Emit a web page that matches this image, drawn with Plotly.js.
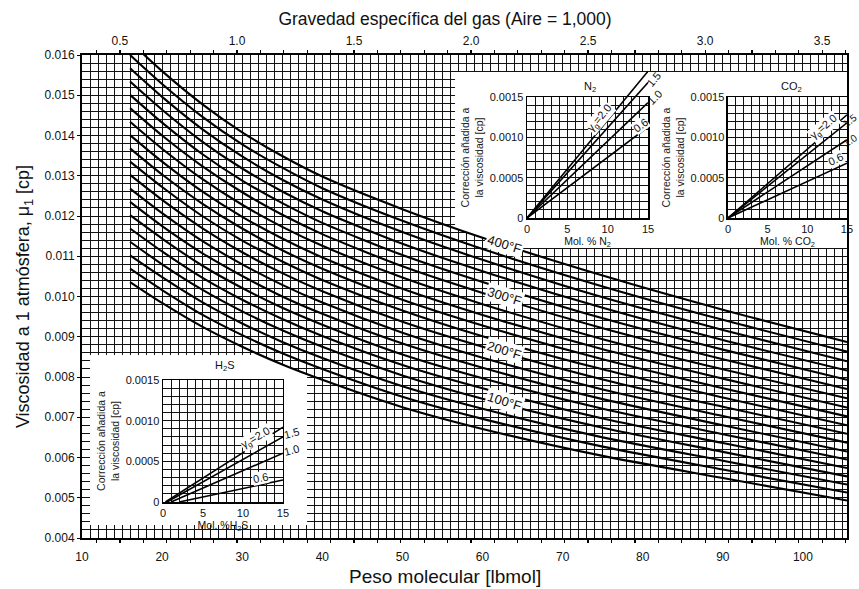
<!DOCTYPE html>
<html><head><meta charset="utf-8">
<script src="https://cdn.plot.ly/plotly-3.0.1.min.js"></script>
<style>html,body{margin:0;padding:0;background:#fff}#chart{width:859px;height:589px}</style>
</head><body><div id="chart"></div>
<script>
// ---- Main chart data: viscosity at 1 atm (cp) vs molecular weight, one curve per temperature ----
const molWeight = [16, 20, 25, 30, 35, 40, 50, 60, 75, 90, 105.5];
const temperaturesF = [40, 60, 80, 100, 120, 140, 160, 180, 200, 220, 240, 260, 280, 300, 320, 340, 360, 380, 400];
const visc_40F  = [0.01036, 0.00984, 0.00925, 0.00875, 0.00831, 0.00793, 0.00725, 0.00671, 0.00604, 0.00549, 0.00493];
const visc_60F  = [0.01069, 0.01016, 0.00955, 0.00904, 0.00859, 0.00820, 0.00751, 0.00696, 0.00627, 0.00570, 0.00513];
const visc_80F  = [0.01102, 0.01048, 0.00986, 0.00933, 0.00887, 0.00847, 0.00777, 0.00721, 0.00650, 0.00592, 0.00533];
const visc_100F = [0.01136, 0.01080, 0.01017, 0.00963, 0.00916, 0.00875, 0.00804, 0.00746, 0.00674, 0.00614, 0.00553];
const visc_120F = [0.01169, 0.01112, 0.01047, 0.00992, 0.00944, 0.00902, 0.00830, 0.00772, 0.00697, 0.00636, 0.00574];
const visc_140F = [0.01202, 0.01144, 0.01077, 0.01021, 0.00972, 0.00930, 0.00856, 0.00797, 0.00721, 0.00658, 0.00595];
const visc_160F = [0.01235, 0.01175, 0.01108, 0.01051, 0.01000, 0.00957, 0.00883, 0.00823, 0.00745, 0.00680, 0.00615];
const visc_180F = [0.01268, 0.01207, 0.01138, 0.01080, 0.01029, 0.00985, 0.00910, 0.00848, 0.00769, 0.00703, 0.00637];
const visc_200F = [0.01302, 0.01240, 0.01170, 0.01110, 0.01058, 0.01013, 0.00937, 0.00875, 0.00794, 0.00726, 0.00659];
const visc_220F = [0.01335, 0.01272, 0.01200, 0.01139, 0.01087, 0.01041, 0.00965, 0.00901, 0.00819, 0.00749, 0.00680];
const visc_240F = [0.01368, 0.01303, 0.01231, 0.01169, 0.01115, 0.01069, 0.00992, 0.00928, 0.00844, 0.00772, 0.00702];
const visc_260F = [0.01401, 0.01335, 0.01261, 0.01198, 0.01144, 0.01097, 0.01019, 0.00954, 0.00869, 0.00796, 0.00724];
const visc_280F = [0.01434, 0.01367, 0.01292, 0.01228, 0.01173, 0.01126, 0.01047, 0.00981, 0.00894, 0.00819, 0.00747];
const visc_300F = [0.01468, 0.01400, 0.01324, 0.01259, 0.01203, 0.01155, 0.01075, 0.01009, 0.00921, 0.00844, 0.00770];
const visc_320F = [0.01501, 0.01432, 0.01354, 0.01288, 0.01232, 0.01183, 0.01103, 0.01036, 0.00946, 0.00868, 0.00793];
const visc_340F = [0.01534, 0.01464, 0.01385, 0.01318, 0.01261, 0.01212, 0.01131, 0.01063, 0.00972, 0.00892, 0.00816];
const visc_360F = [0.01567, 0.01496, 0.01416, 0.01348, 0.01290, 0.01241, 0.01160, 0.01091, 0.00998, 0.00917, 0.00839];
const visc_380F = [0.01600, 0.01528, 0.01447, 0.01378, 0.01320, 0.01269, 0.01188, 0.01118, 0.01025, 0.00942, 0.00863];
const visc_400F = [0.01633, 0.01560, 0.01478, 0.01408, 0.01349, 0.01298, 0.01217, 0.01146, 0.01052, 0.00967, 0.00887];
const labelledTemps = ['400°F', '300°F', '200°F', '100°F'];
const labelledTempValues = [0.01128, 0.00999, 0.00867, 0.00738];
const labelMolWeight = 62.8;

// ---- Inset data: viscosity correction (cp) vs mol % of non-hydrocarbon ----
const molPct = [0, 15];
const n2_g06 = [0, 0.00113];
const n2_g10 = [0, 0.00143];
const n2_g15 = [0, 0.00168];
const n2_g20 = [0, 0.00182];
const co2_g06 = [0, 0.00068];
const co2_g10 = [0, 0.00097];
const co2_g15 = [0, 0.00118];
const co2_g20 = [0, 0.00128];
const h2sMol_g06 = [2.0, 15];
const h2sMol_g10 = [1.0, 15];
const h2sMol_g15 = [0.5, 15];
const h2sMol_g20 = [0.3, 15];
const h2s_g06 = [0, 0.00027];
const h2s_g10 = [0, 0.00060];
const h2s_g15 = [0, 0.00080];
const h2s_g20 = [0, 0.00092];
const insetYTicks = [0, 0.0005, 0.0010, 0.0015];
const insetYTickText = ['0', '0.0005', '0.0010', '0.0015'];

// ---- build ----
const viscSeries = [visc_40F, visc_60F, visc_80F, visc_100F, visc_120F, visc_140F, visc_160F, visc_180F, visc_200F,
  visc_220F, visc_240F, visc_260F, visc_280F, visc_300F, visc_320F, visc_340F, visc_360F, visc_380F, visc_400F];

const FONT = 'Liberation Sans, Arial, Helvetica, sans-serif';
const GRID = '#111';
const GW = 1;
const traces = [];

viscSeries.forEach((vals, i) => {
  traces.push({x: molWeight, y: vals, mode: 'lines', name: temperaturesF[i] + '°F',
    line: {color: '#000', width: 2.1, shape: 'spline', smoothing: 0.7},
    xaxis: 'x', yaxis: 'y', hoverinfo: 'skip', showlegend: false});
});
// empty traces so helper axes get their subplots
['x2', 'x7'].forEach(a => traces.push({x: [], y: [], xaxis: a, yaxis: 'y', showlegend: false, hoverinfo: 'skip'}));
traces.push({x: [], y: [], xaxis: 'x3', yaxis: 'y3', showlegend: false, hoverinfo: 'skip'});

function insetLine(xs, ys, xa, ya) {
  return {x: xs, y: ys, mode: 'lines', line: {color: '#000', width: 1.6}, xaxis: xa, yaxis: ya, hoverinfo: 'skip', showlegend: false};
}
[n2_g06, n2_g10, n2_g15, n2_g20].forEach(v => traces.push(insetLine(molPct, v, 'x8', 'y6')));
[co2_g06, co2_g10, co2_g15, co2_g20].forEach(v => traces.push(insetLine(molPct, v, 'x4', 'y4')));
traces.push(insetLine(h2sMol_g06, h2s_g06, 'x5', 'y5'));
traces.push(insetLine(h2sMol_g10, h2s_g10, 'x5', 'y5'));
traces.push(insetLine(h2sMol_g15, h2s_g15, 'x5', 'y5'));
traces.push(insetLine(h2sMol_g20, h2s_g20, 'x5', 'y5'));

function insetX(domain, anchor, title) {
  return {domain: domain, anchor: anchor, range: [0, 15], tick0: 0, dtick: 5, ticks: '',
    showgrid: true, gridcolor: GRID, gridwidth: GW,
    minor: {dtick: 1, showgrid: true, gridcolor: GRID, gridwidth: GW},
    showline: true, mirror: true, linecolor: '#000', linewidth: 1.5, zeroline: false,
    tickfont: {size: 11, family: FONT, color: '#111'},
    title: {text: title, font: {size: 10.5, family: FONT, color: '#111'}, standoff: 1}};
}
function insetY(domain, anchor) {
  return {domain: domain, anchor: anchor, range: [0, 0.0015], tickvals: insetYTicks, ticktext: insetYTickText, ticks: '',
    showgrid: true, gridcolor: GRID, gridwidth: GW,
    minor: {dtick: 0.0001, showgrid: true, gridcolor: GRID, gridwidth: GW},
    showline: true, mirror: true, linecolor: '#000', linewidth: 1.5, zeroline: false,
    tickfont: {size: 11, family: FONT, color: '#111'},
    title: {text: 'Corrección añadida a<br>la viscosidad [cp]', font: {size: 10.5, family: FONT, color: '#222'}, standoff: 4}};
}

const n2Dom = {x: [0.5817, 0.7399], y: [0.6625, 0.9130]};
const co2Dom = {x: [0.8444, 1.0], y: [0.6625, 0.9130]};
const h2sDom = {x: [0.1059, 0.2627], y: [0.0745, 0.3271]};

function lab(text, x, y, angle, bg, size) {
  return {text: text, x: x, y: y, xref: 'paper', yref: 'paper', showarrow: false, textangle: angle,
    bgcolor: bg ? '#fff' : 'rgba(0,0,0,0)', borderpad: 0,
    font: {size: size || 11, family: FONT, color: '#111'}, xanchor: 'center', yanchor: 'middle'};
}

const annotations = [
  {text: 'Peso molecular [lbmol]', x: 0.4745, y: -0.0807, xref: 'paper', yref: 'paper', showarrow: false,
   font: {size: 19, family: FONT, color: '#111'}, xanchor: 'center', yanchor: 'middle'},
  lab('N<sub>2</sub>', 0.6641, 0.9337, 0, false, 11),
  lab('CO<sub>2</sub>', 0.9268, 0.9337, 0, false, 11),
  lab('H<sub>2</sub>S', 0.1869, 0.3561, 0, false, 11),
  lab('γ<sub>g</sub>=2.0', 0.6771, 0.8696, -50, true, 11),
  lab('1.5', 0.7477, 0.9503, -50, false, 11),
  lab('1.0', 0.7490, 0.9130, -45, false, 11),
  lab('0.6', 0.7307, 0.8551, -37, true, 11),
  lab('γ<sub>g</sub>=2.0', 0.9700, 0.8509, -40, true, 11),
  lab('1.5', 1.0040, 0.8634, -37, false, 10),
  lab('1.0', 1.0040, 0.8240, -33, false, 10),
  lab('0.6', 0.9856, 0.7847, -25, true, 11),
  lab('γ<sub>g</sub>=2.0', 0.2275, 0.2070, -30, true, 11),
  lab('1.5', 0.2745, 0.2174, -15, false, 11),
  lab('1.0', 0.2745, 0.1822, -15, false, 11),
  lab('0.6', 0.2327, 0.1242, -12, true, 11)
];
labelledTemps.forEach((t, i) => annotations.push({
  text: t, x: labelMolWeight, y: labelledTempValues[i], xref: 'x', yref: 'y', showarrow: false,
  textangle: 17, bgcolor: '#fff', borderpad: 1, font: {size: 13, family: FONT, color: '#111'},
  xanchor: 'center', yanchor: 'middle'}));

const shapes = [
  {type: 'path', xref: 'x', yref: 'y', layer: 'between', fillcolor: '#fff', line: {width: 0},
   path: 'M56.57,0.015578 L105.5,0.015578 L105.5,0.011205 L60.3,0.011205 L60.3,0.01143 L56.57,0.0117 Z'},
  {type: 'path', xref: 'x', yref: 'y', layer: 'between', fillcolor: '#fff', line: {width: 0},
   path: 'M11,0.008547 L32.3,0.008547 L35,0.00831 L38.09,0.00808 L38.09,0.004323 L11,0.004323 Z'}
];

const layout = {
  width: 859, height: 589,
  margin: {l: 82, r: 12, t: 55, b: 51, pad: 0},
  paper_bgcolor: '#fff', plot_bgcolor: 'rgba(0,0,0,0)', showlegend: false,
  font: {family: FONT, color: '#111', size: 12},
  title: {text: 'Gravedad específica del gas (Aire = 1,000)', font: {size: 17.5, family: FONT, color: '#111'},
    x: 445 / 859, xref: 'container', xanchor: 'center', y: 1 - 19 / 589, yref: 'container', yanchor: 'middle'},
  xaxis: {range: [10, 105.5], tick0: 10, dtick: 10, ticks: '', ticklabelstandoff: 7,
    showgrid: true, gridcolor: GRID, gridwidth: GW,
    minor: {dtick: 1, showgrid: true, gridcolor: GRID, gridwidth: GW},
    showline: true, mirror: true, linecolor: '#000', linewidth: 2, zeroline: false,
    tickfont: {size: 12, family: FONT, color: '#111'}},
  yaxis: {range: [0.004, 0.016], tick0: 0.004, dtick: 0.001, tickformat: '.3f', ticks: 'outside', ticklen: 3, tickcolor: '#000',
    showgrid: true, gridcolor: GRID, gridwidth: GW,
    minor: {dtick: 0.0002, showgrid: true, gridcolor: GRID, gridwidth: GW},
    showline: true, mirror: true, linecolor: '#000', linewidth: 2, zeroline: false,
    tickfont: {size: 12, family: FONT, color: '#111'},
    title: {text: 'Viscosidad a 1 atmósfera, μ<sub>1</sub> [cp]', font: {size: 18, family: FONT, color: '#111'}, standoff: 10}},
  xaxis2: {overlaying: 'x', side: 'top', anchor: 'y', range: [0.338, 3.606], tick0: 0.5, dtick: 0.5, tickformat: '.1f',
    ticks: 'outside', ticklen: 4, tickcolor: '#000', tickwidth: 1.2,
    minor: {dtick: 0.1, ticks: 'outside', ticklen: 4, tickcolor: '#000', tickwidth: 1.2, showgrid: false},
    showgrid: false, showline: false, zeroline: false, tickfont: {size: 12, family: FONT, color: '#111'}},
  xaxis7: {overlaying: 'x', side: 'bottom', anchor: 'y', range: [0.338, 3.606], tick0: 0.5, dtick: 0.1,
    ticks: 'outside', ticklen: 4, tickcolor: '#000', tickwidth: 1.2, showticklabels: false,
    showgrid: false, showline: false, zeroline: false},
  xaxis3: insetX(n2Dom.x, 'y3', 'Mol. % N<sub>2</sub>'),
  yaxis3: insetY(n2Dom.y, 'x3'),
  xaxis8: {domain: n2Dom.x, anchor: 'y6', range: [0, 15], visible: false},
  yaxis6: {domain: [0.6625, 0.9752], anchor: 'x8', range: [0, 0.0018724], visible: false},
  xaxis4: insetX(co2Dom.x, 'y4', 'Mol. % CO<sub>2</sub>'),
  yaxis4: insetY(co2Dom.y, 'x4'),
  xaxis5: insetX(h2sDom.x, 'y5', 'Mol. %H<sub>2</sub>S'),
  yaxis5: insetY(h2sDom.y, 'x5'),
  annotations: annotations,
  shapes: shapes
};

Plotly.newPlot('chart', traces, layout, {displayModeBar: false, staticPlot: true});
</script>
</body></html>
